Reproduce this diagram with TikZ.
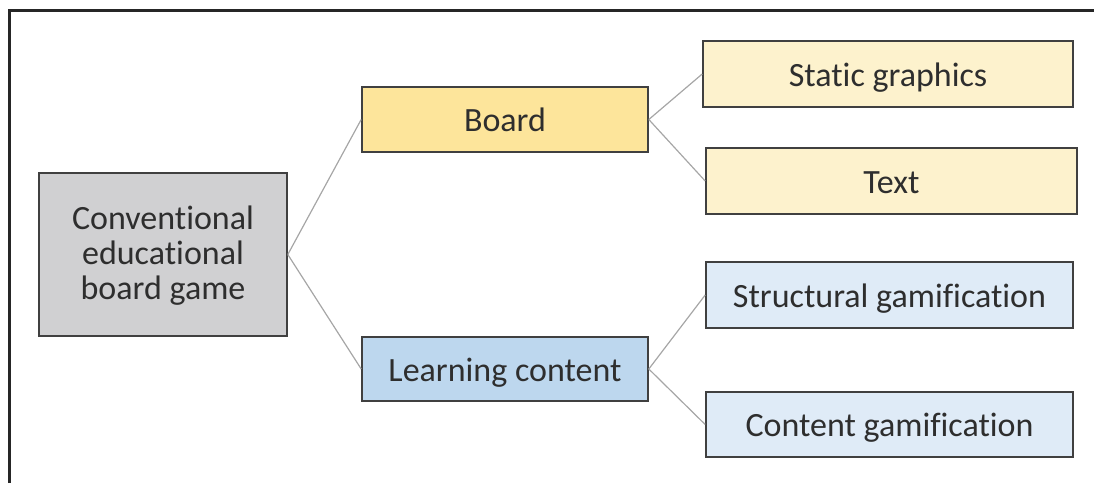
\documentclass[tikz,border=0pt]{standalone}
\usepackage{fontspec}
\setmainfont{Carlito}[Ligatures=NoCommon]
\begin{document}
\begin{tikzpicture}[x=1pt,y=-1pt,
  box/.style={draw=boxline, line width=1.6pt, inner sep=0pt, align=center,
    text=textgray, font=\fontsize{34}{35}\selectfont},
  onerow/.style={text height=24pt, text depth=0pt},
  link/.style={draw=linkgray, line width=1.2pt}]
\definecolor{boxline}{HTML}{404040}
\definecolor{textgray}{HTML}{2E2E2E}
\definecolor{linkgray}{HTML}{A6A6A6}
\definecolor{rootgray}{HTML}{D0D0D2}
\definecolor{boardyellow}{HTML}{FDE59B}
\definecolor{paleyellow}{HTML}{FDF2CD}
\definecolor{contentblue}{HTML}{BDD7EE}
\definecolor{paleblue}{HTML}{DFEBF7}
\useasboundingbox (0,0) rectangle (1094,483);
% frame: top and left edges only
\draw[line width=3pt, color=black!85] (9,483) -- (9,10.5) -- (1094,10.5);
% nodes
\node[box, fill=rootgray, minimum width=248pt, minimum height=163pt, text depth=3pt] (root) at (163,254.5)
  {Conventional\\educational\\board game};
\node[box, onerow, fill=boardyellow, minimum width=286pt, minimum height=65pt] (board) at (505,119.5) {Board};
\node[box, onerow, fill=contentblue, minimum width=286pt, minimum height=64pt] (learn) at (505,369) {Learning content};
\node[box, onerow, fill=paleyellow, minimum width=370pt, minimum height=66pt] (static) at (888,74) {Static graphics};
\node[box, onerow, fill=paleyellow, minimum width=371pt, minimum height=66pt] (text) at (891.5,181) {Text};
\node[box, onerow, fill=paleblue, minimum width=367pt, minimum height=66pt] (struct) at (889.5,295) {Structural gamification};
\node[box, onerow, fill=paleblue, minimum width=367pt, minimum height=65pt] (cgam) at (889.5,424.5) {Content gamification};
% connectors
\draw[link] (root.east) -- (board.west);
\draw[link] (root.east) -- (learn.west);
\draw[link] (board.east) -- (static.west);
\draw[link] (board.east) -- (text.west);
\draw[link] (learn.east) -- (struct.west);
\draw[link] (learn.east) -- (cgam.west);
\end{tikzpicture}
\end{document}
